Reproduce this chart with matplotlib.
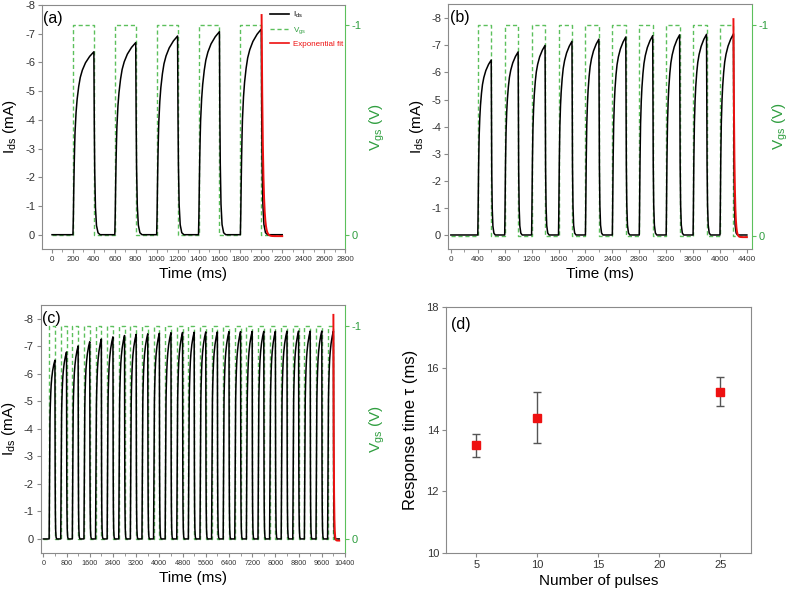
import numpy as np
import matplotlib
matplotlib.use("Agg")
import matplotlib.pyplot as plt
from matplotlib.lines import Line2D
from matplotlib.ticker import MultipleLocator

plt.rcParams['font.family'] = ['Liberation Sans', 'DejaVu Sans']
plt.rcParams['mathtext.default'] = 'regular'
plt.rcParams['axes.unicode_minus'] = False

# ---------------- data ----------------
pulse_width_ms = 200

on_times_a = [200, 600, 1000, 1400, 1800]
peaks_a = [-6.37, -6.69, -6.92, -7.07, -7.16]

on_times_b = [400, 800, 1200, 1600, 2000, 2400, 2800, 3200, 3600, 4000]
peaks_b = [-6.46, -6.76, -7.0, -7.15, -7.23, -7.31, -7.36, -7.39, -7.41, -7.42]

on_times_c = [200, 600, 1000, 1400, 1800, 2200, 2600, 3000, 3400, 3800,
              4200, 4600, 5000, 5400, 5800, 6200, 6600, 7000, 7400, 7800,
              8200, 8600, 9000, 9400, 9800]
peaks_c = [-6.5, -6.8, -7.02, -7.17, -7.27, -7.35, -7.4, -7.44, -7.46, -7.48,
           -7.5, -7.51, -7.52, -7.53, -7.53, -7.54, -7.54, -7.55, -7.55, -7.55,
           -7.56, -7.56, -7.56, -7.56, -7.56]

# normalised shape of one current pulse
rise_t_ms = [0, 4, 8, 12, 16, 20, 30, 40, 55, 70, 90, 120, 160, 200]
rise_frac = [0, 0.1, 0.25, 0.38, 0.48, 0.56, 0.67, 0.74, 0.81, 0.86, 0.9, 0.94, 0.975, 1.0]
decay_t_ms = [0, 4, 8, 15, 25, 40, 60]
decay_frac = [1.0, 0.6, 0.35, 0.15, 0.05, 0.01, 0.0]

trace_end = {'a': 2200, 'b': 4400, 'c': 10200}

# exponential fit of the last decay
fit_t0 = {'a': 2003, 'b': 4200, 'c': 10000}
fit_start = {'a': -7.65, 'b': -7.97, 'c': -8.15}
fit_offset = {'a': 0.05, 'b': 0.08, 'c': 0.06}

# panel (d)
n_pulses = [5, 10, 25]
tau_ms = [13.5, 14.4, 15.25]
tau_err = [0.37, 0.82, 0.47]

# ---------------- style ----------------
GRAY = '#8a8a8a'
TXT = '#333333'
GREEN_LINE = '#5cc05c'
GREEN_TXT = '#2f9e3f'
RED = '#ee1111'


def build_ids(on_times, peaks, t_end):
    t, i = [0.0], [0.0]
    for on, pk in zip(on_times, peaks):
        for rt, rf in zip(rise_t_ms, rise_frac):
            t.append(on + rt)
            i.append(pk * rf)
        off = on + pulse_width_ms
        for dt, df in zip(decay_t_ms[1:], decay_frac[1:]):
            t.append(off + dt)
            i.append(pk * df)
    t.append(t_end)
    i.append(0.0)
    return np.array(t), np.array(i)


def build_vgs(on_times, t_end):
    t, v = [0.0], [0.0]
    for on in on_times:
        off = on + pulse_width_ms
        t += [on, on, off, off]
        v += [0, -1, -1, 0]
    t.append(t_end)
    v.append(0)
    return np.array(t), np.array(v)


def build_fit(key, tau):
    t = np.linspace(fit_t0[key], trace_end[key], 300)
    y = fit_offset[key] + (fit_start[key] - fit_offset[key]) * np.exp(-(t - fit_t0[key]) / tau)
    return t, y


fig = plt.figure(figsize=(7.92, 5.93), dpi=100)

pos = {
    'a': [0.053, 0.580, 0.3826, 0.4116],
    'b': [0.5657, 0.580, 0.3838, 0.4133],
    'c': [0.0514, 0.068, 0.3842, 0.4177],
    'd': [0.5631, 0.0675, 0.385, 0.4148],
}
cfg = {
    'a': dict(on=on_times_a, pk=peaks_a, xlim=(-96, 2800), yl=(0.5, -8.0), yr=(0.067, -1.095),
              maj=200, mnr=100, xfs=5.8, tau=tau_ms[0], vpad=4),
    'b': dict(on=on_times_b, pk=peaks_b, xlim=(-42, 4476), yl=(0.52, -8.53), yr=(0.063, -1.10),
              maj=400, mnr=200, xfs=5.9, tau=tau_ms[1], vpad=1.5),
    'c': dict(on=on_times_c, pk=peaks_c, xlim=(-90, 10400), yl=(0.5, -8.51), yr=(0.064, -1.097),
              maj=800, mnr=400, xfs=5.2, tau=tau_ms[2], vpad=4),
}

for key in ['a', 'b', 'c']:
    c = cfg[key]
    ax = fig.add_axes(pos[key])
    ax2 = ax.twinx()
    ax.set_zorder(ax2.get_zorder() + 1)
    ax.patch.set_visible(False)

    tv, vv = build_vgs(c['on'], trace_end[key])
    ax2.plot(tv, vv, color=GREEN_LINE, lw=1.0, ls=(0, (3, 2)))
    ti, ii = build_ids(c['on'], c['pk'], trace_end[key])
    ax.plot(ti, ii, color='black', lw=1.1)
    tf, yf = build_fit(key, c['tau'])
    ax.plot(tf, yf, color=RED, lw=1.4)

    ax.set_xlim(*c['xlim'])
    ax.set_ylim(*c['yl'])
    ax2.set_ylim(*c['yr'])
    ax.set_yticks(list(range(-8, 1)))
    ax.xaxis.set_minor_locator(MultipleLocator(c['mnr']))
    ax.set_xticks([x for x in range(0, int(c['xlim'][1]) + 1, c['maj'])])

    for s in ['top', 'left', 'bottom']:
        ax.spines[s].set_color(GRAY)
        ax2.spines[s].set_visible(False)
    ax.spines['right'].set_visible(False)
    ax2.spines['right'].set_color(GREEN_LINE)

    ax.tick_params(axis='y', direction='out', length=3, width=0.8, color=GRAY,
                   labelsize=8, labelcolor=TXT, pad=2)
    ax.tick_params(axis='x', which='major', direction='out', length=3, width=0.8, color=GRAY,
                   labelsize=c['xfs'], labelcolor=TXT, pad=2)
    ax.tick_params(axis='x', which='minor', direction='out', length=2, width=0.6, color=GRAY)
    ax2.set_yticks([-1, 0])
    ax2.set_yticklabels(['-1', '0'])
    ax2.tick_params(axis='y', direction='out', length=3, width=0.8, color=GREEN_LINE,
                    labelsize=8, labelcolor=GREEN_TXT, pad=2)

    ax.set_ylabel('I$_{ds}$ (mA)', fontsize=11, color='black', labelpad=4)
    ax2.set_ylabel('V$_{gs}$ (V)', fontsize=11, color=GREEN_TXT, labelpad=c['vpad'])
    ax.set_xlabel('Time (ms)', fontsize=11, color='black', labelpad=3)
    ax.text(0.005, 0.975, '(%s)' % key, transform=ax.transAxes, fontsize=11.5,
            va='top', ha='left')

    if key == 'a':
        handles = [Line2D([], [], color='black', lw=1.2),
                   Line2D([], [], color=GREEN_LINE, lw=1.0, ls=(0, (3, 2))),
                   Line2D([], [], color=RED, lw=1.2)]
        leg = ax.legend(handles, ['I$_{ds}$', 'V$_{gs}$', 'Exponential fit'],
                        loc='upper left', bbox_to_anchor=(0.735, 1.0), frameon=False,
                        fontsize=5.8, handlelength=2.4, labelspacing=0.6,
                        handletextpad=0.5, borderaxespad=0.2)
        for txt, col in zip(leg.get_texts(), ['black', GREEN_TXT, RED]):
            txt.set_color(col)

# panel (d)
axd = fig.add_axes(pos['d'])
axd.errorbar(n_pulses, tau_ms, yerr=tau_err, fmt='s', color=RED, ms=6,
             ecolor='#555555', elinewidth=1.0, capsize=3, capthick=1.0)
axd.set_xlim(2.5, 27.5)
axd.set_ylim(10, 18)
axd.set_xticks([5, 10, 15, 20, 25])
axd.set_yticks([10, 12, 14, 16, 18])
for s in axd.spines.values():
    s.set_color(GRAY)
axd.tick_params(direction='out', length=3, width=0.8, color=GRAY, labelsize=8,
                labelcolor=TXT, pad=2)
axd.set_xlabel('Number of pulses', fontsize=11, labelpad=3)
axd.set_ylabel('Response time τ (ms)', fontsize=12, labelpad=6)
axd.text(0.015, 0.96, '(d)', transform=axd.transAxes, fontsize=11.5, va='top', ha='left')

fig.savefig('out.png', dpi=100)
